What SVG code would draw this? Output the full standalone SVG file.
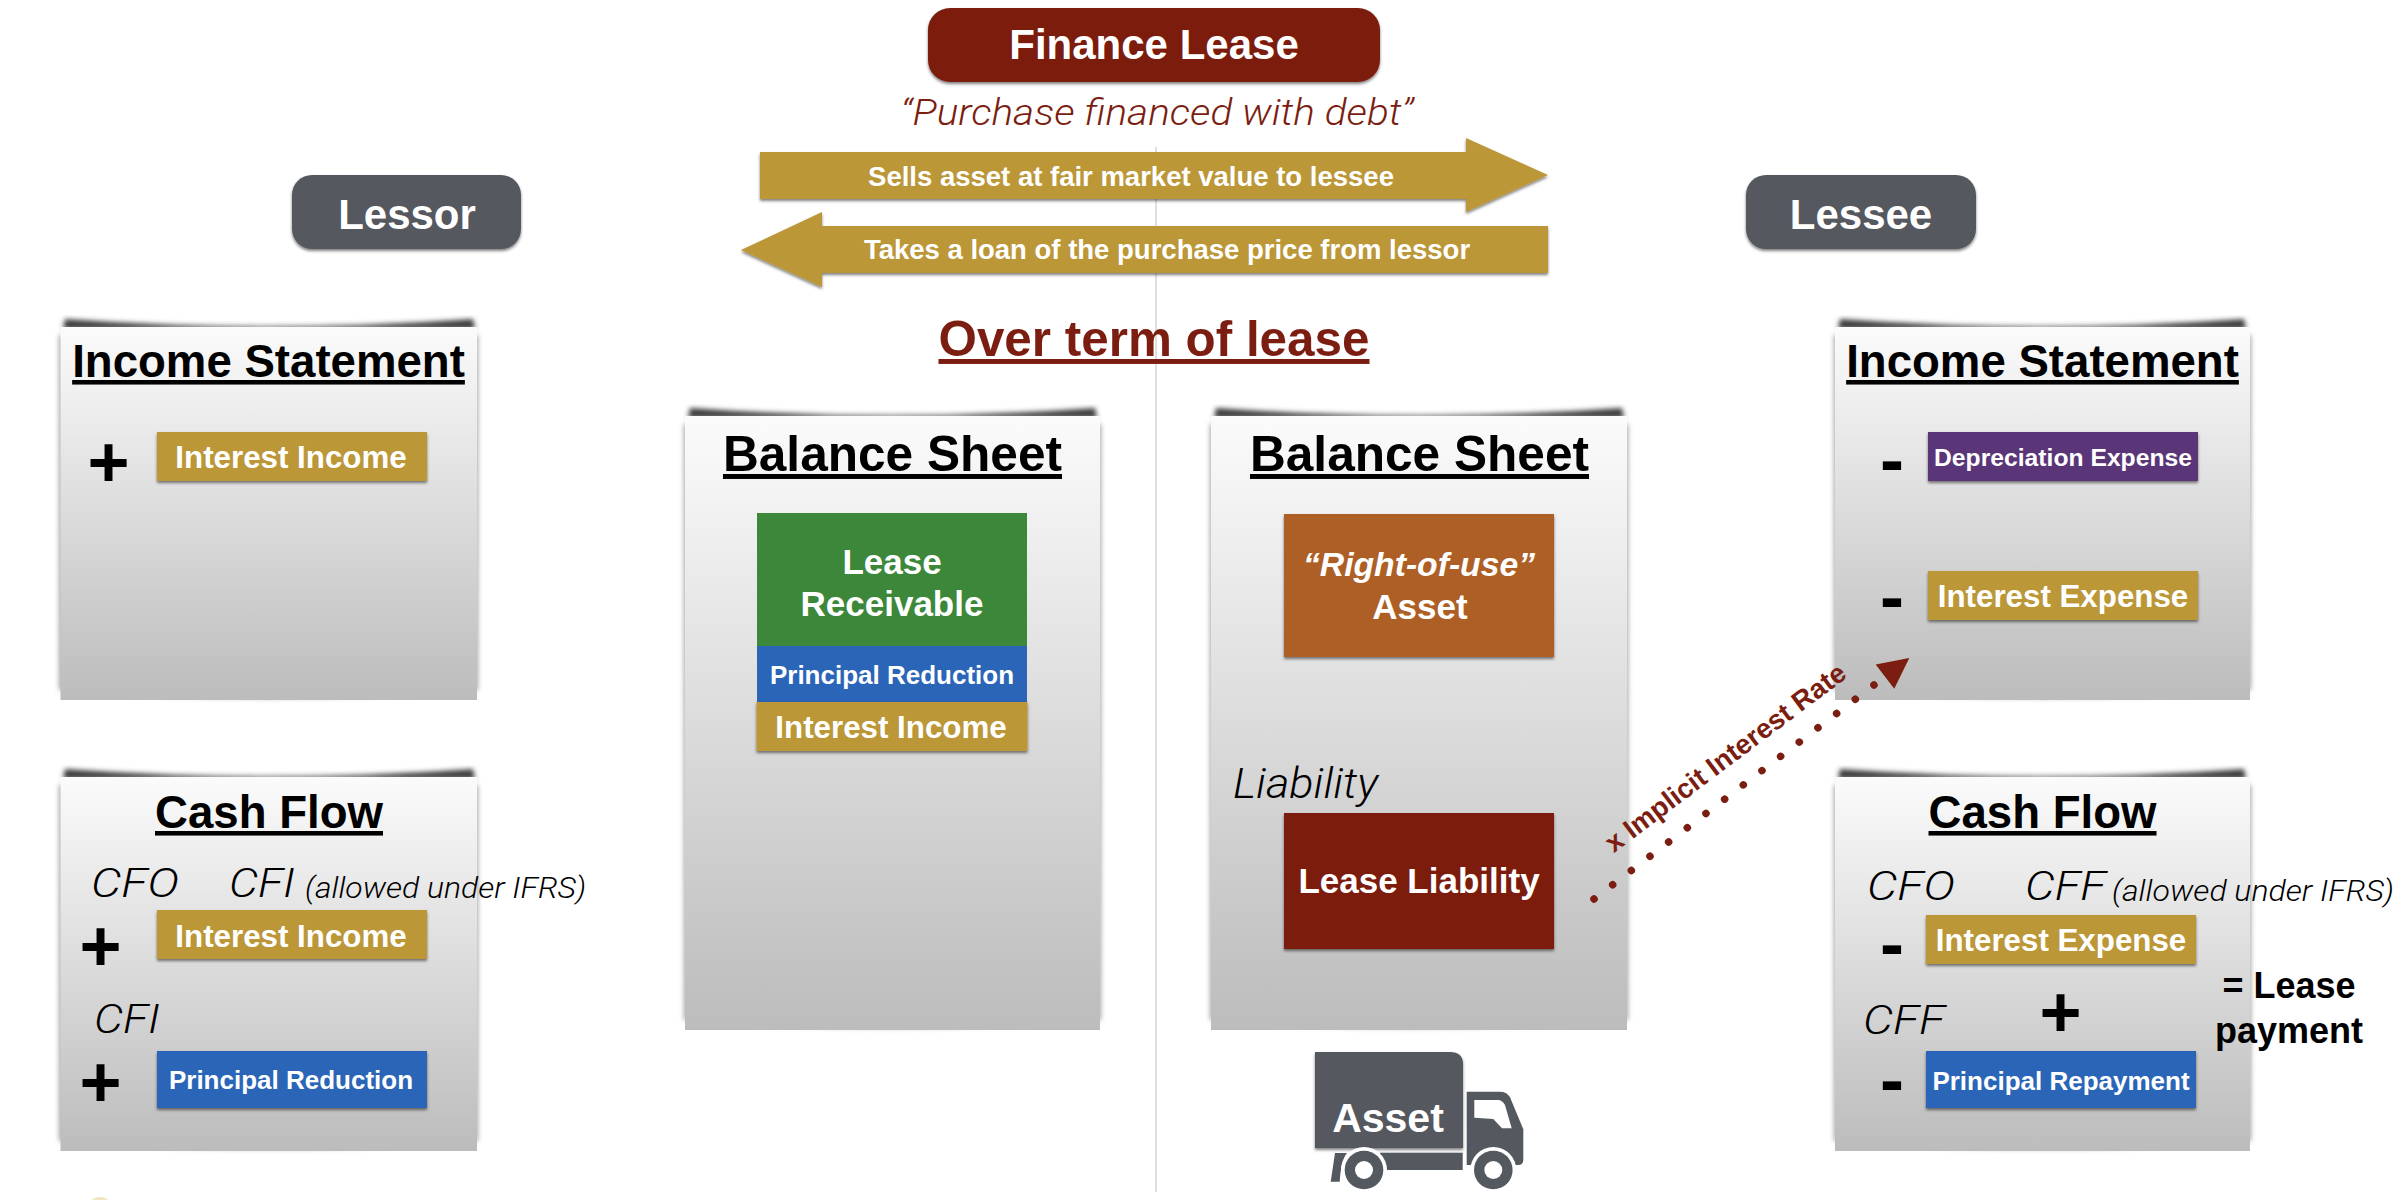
<svg xmlns="http://www.w3.org/2000/svg" width="2396" height="1200" viewBox="0 0 2396 1200">
<style>
text{font-family:"Liberation Sans",Arial,sans-serif}
.w{fill:#fff;font-weight:700;text-anchor:middle}
.h{fill:#000;font-weight:700;text-anchor:middle;font-size:45.6px;text-decoration:underline}
.h2{fill:#000;font-weight:700;text-anchor:middle;font-size:49.6px;text-decoration:underline}
.i{fill:#000;font-family:Roboto,"Liberation Sans",sans-serif;font-style:italic;font-weight:300}
.sign{fill:#000;font-weight:700;font-size:72px;text-anchor:middle}
.gold{fill:#bb9738}.blue{fill:#2b65b7}.slate{fill:#54585f}.red{fill:#7b1d10}
.box{filter:url(#sh)}
.t31{font-size:31.3px}.t26{font-size:26px}.t35{font-size:35px}
.pan{fill:url(#pg)}
.ps{fill:#3c3c3c;filter:url(#b2)}
.pb{fill:#a6a6a6;filter:url(#b3)}
</style>
<defs>
<linearGradient id="pg" x1="0" y1="0" x2="0" y2="1"><stop offset="0" stop-color="#fbfbfb"/><stop offset="1" stop-color="#bcbcbc"/></linearGradient>
<filter id="sh" x="-10%" y="-10%" width="120%" height="130%"><feDropShadow dx="0" dy="2" stdDeviation="1.8" flood-color="#000" flood-opacity=".5"/></filter>
<filter id="b2" x="-5%" y="-40%" width="110%" height="180%"><feGaussianBlur stdDeviation="2.4"/></filter>
<filter id="b3" x="-5%" y="-5%" width="110%" height="110%"><feGaussianBlur stdDeviation="2.5"/></filter>
<marker id="tri" markerUnits="userSpaceOnUse" viewBox="0 -20 50 40" markerWidth="50" markerHeight="40" refX="0" refY="0" orient="auto"><path d="M13.8,-15.3 L44.4,0 L13.8,15.3 Z" fill="#7b1d10"/></marker>
</defs>
<rect width="2396" height="1200" fill="#fff"/>
<line x1="1156" y1="147" x2="1156" y2="1192" stroke="#d4d4d4" stroke-width="1.5"/>
<ellipse cx="100" cy="1200" rx="8" ry="3" fill="#f1e6c4"/>

<g id="finance-lease">
<rect class="red box" x="928" y="8" width="452" height="74" rx="22"/>
<text class="w" x="1154" y="59" font-size="42">Finance Lease</text>
<text x="1157" y="125" font-size="36" fill="#7b1d10" text-anchor="middle" style="font-family:Roboto,'Liberation Sans',sans-serif;font-style:italic;font-weight:300" textLength="513" lengthAdjust="spacingAndGlyphs">“Purchase financed with debt”</text>
</g>

<g id="over-term">
<text x="1154" y="356" font-size="49.400" font-weight="700" fill="#7b1d10" text-anchor="middle" text-decoration="underline">Over term of lease</text>
</g>

<g id="lessor"><rect class="slate box" x="292" y="175" width="229" height="74" rx="20"/><text class="w" x="407" y="229" font-size="42">Lessor</text></g>
<g id="lessee"><rect class="slate box" x="1746" y="175" width="230" height="74" rx="20"/><text class="w" x="1861" y="229" font-size="42">Lessee</text></g>

<g id="lessor-income-statement">
<path class="pb" d="M59,335 H478 V690 Q269,706 59,690 Z"/>
<path class="ps" d="M63,329 L65,319 Q269,334 473,319 L475,329 Z"/>
<rect class="pan" x="60.500" y="327" width="416.500" height="373"/>
<text class="h" x="268.500" y="377">Income Statement</text>
<text class="sign" x="108.500" y="487">+</text>
<rect class="gold box" x="157" y="432" width="270" height="49"/>
<text class="w t31" x="291" y="468">Interest Income</text>
</g>

<g id="lessor-cash-flow">
<path class="pb" d="M59,785 H478 V1141 Q269,1157 59,1141 Z"/>
<path class="ps" d="M63,779 L65,769 Q269,784 473,769 L475,779 Z"/>
<rect class="pan" x="60.500" y="777" width="416.500" height="374"/>
<text class="h" x="269" y="828">Cash Flow</text>
<text class="i" x="91" y="897" font-size="41" textLength="88" lengthAdjust="spacingAndGlyphs">CFO</text>
<text class="i" x="229" y="897" font-size="41" textLength="66" lengthAdjust="spacingAndGlyphs">CFI</text>
<text class="i" x="305" y="898" font-size="29" textLength="281" lengthAdjust="spacingAndGlyphs">(allowed under IFRS)</text>
<text class="sign" x="100.500" y="971">+</text>
<rect class="gold box" x="157" y="910" width="270" height="49"/>
<text class="w t31" x="291" y="947">Interest Income</text>
<text class="i" x="94" y="1033" font-size="41" textLength="66" lengthAdjust="spacingAndGlyphs">CFI</text>
<text class="sign" x="100.500" y="1107">+</text>
<rect class="blue box" x="157" y="1051" width="270" height="57"/>
<text class="w t26" x="291" y="1089">Principal Reduction</text>
</g>

<g id="lessor-balance-sheet">
<path class="pb" d="M684,424 H1101 V1020 Q892,1036 684,1020 Z"/>
<path class="ps" d="M688,418 L690,408 Q892,423 1095,408 L1097,418 Z"/>
<rect class="pan" x="685" y="416" width="415" height="614"/>
<text class="h2" x="892.500" y="471">Balance Sheet</text>
<rect x="757" y="513" width="270" height="133" fill="#3c873a"/>
<text class="w t35" x="892" y="574">Lease</text>
<text class="w t35" x="892" y="616">Receivable</text>
<rect class="blue" x="757" y="646" width="270" height="56"/>
<text class="w t26" x="892" y="684">Principal Reduction</text>
<rect class="gold box" x="756.500" y="702" width="271" height="49"/>
<text class="w t31" x="891" y="738">Interest Income</text>
</g>

<g id="lessee-balance-sheet">
<path class="pb" d="M1210,424 H1628 V1020 Q1419,1036 1210,1020 Z"/>
<path class="ps" d="M1214,418 L1216,408 Q1419,423 1622,408 L1624,418 Z"/>
<rect class="pan" x="1211" y="416" width="416" height="614"/>
<text class="h2" x="1419.500" y="471">Balance Sheet</text>
<rect x="1284" y="514" width="270" height="143" fill="#ae5f26" class="box"/>
<text class="w" x="1419" y="576" font-size="33.700" font-style="italic">“Right-of-use”</text>
<text class="w t35" x="1420" y="618.500">Asset</text>
<text class="i" x="1233" y="798" font-size="43" textLength="145" lengthAdjust="spacingAndGlyphs">Liability</text>
<rect class="red box" x="1284" y="813" width="270" height="136"/>
<text class="w t35" x="1419" y="893">Lease Liability</text>
</g>

<g id="lessee-income-statement">
<path class="pb" d="M1834,335 H2251 V690 Q2042,706 1834,690 Z"/>
<path class="ps" d="M1838,329 L1840,319 Q2042,334 2244,319 L2246,329 Z"/>
<rect class="pan" x="1835" y="327" width="415" height="373"/>
<text class="h" x="2042.500" y="377">Income Statement</text>
<text class="sign" x="1892" y="484">-</text>
<rect x="1928" y="432" width="270" height="49" fill="#5a3577" class="box"/>
<text class="w" x="2063" y="465.500" font-size="24.700">Depreciation Expense</text>
<text class="sign" x="1892" y="621">-</text>
<rect class="gold box" x="1928" y="571" width="270" height="49"/>
<text class="w t31" x="2063" y="606.500">Interest Expense</text>
</g>

<g id="lessee-cash-flow">
<path class="pb" d="M1834,785 H2251 V1141 Q2042,1157 1834,1141 Z"/>
<path class="ps" d="M1838,779 L1840,769 Q2042,784 2244,769 L2246,779 Z"/>
<rect class="pan" x="1835" y="777" width="415" height="374"/>
<text class="h" x="2042.500" y="828">Cash Flow</text>
<text class="i" x="1867" y="900" font-size="41" textLength="88" lengthAdjust="spacingAndGlyphs">CFO</text>
<text class="i" x="2025" y="900" font-size="41" textLength="81" lengthAdjust="spacingAndGlyphs">CFF</text>
<text class="i" x="2112" y="901" font-size="29" textLength="282" lengthAdjust="spacingAndGlyphs">(allowed under IFRS)</text>
<text class="sign" x="1892" y="968">-</text>
<rect class="gold box" x="1926" y="915" width="270" height="49"/>
<text class="w t31" x="2061" y="951">Interest Expense</text>
<text class="i" x="1863" y="1034" font-size="41" textLength="82" lengthAdjust="spacingAndGlyphs">CFF</text>
<text class="sign" x="2060.500" y="1037">+</text>
<text class="sign" x="1892" y="1104">-</text>
<rect class="blue box" x="1926" y="1051" width="270" height="57"/>
<text class="w t26" x="2061" y="1090">Principal Repayment</text>
<text x="2289" y="998" font-size="36" font-weight="700" text-anchor="middle">= Lease</text>
<text x="2289" y="1043" font-size="36" font-weight="700" text-anchor="middle">payment</text>
</g>

<g id="connectors">
<path class="gold box" d="M760,152 H1466 V138 L1548,175 L1466,212 V199 H760 Z"/>
<path class="gold box" d="M1548,226 H822 V212 L741,250 L822,287 V273 H1548 Z"/>
<line x1="1594" y1="899" x2="1874" y2="685" stroke="#7b1d10" stroke-width="7.500" stroke-linecap="round" stroke-dasharray="0.01 23.48" marker-end="url(#tri)"/>
</g>
<g id="arrow-labels">
<text class="w" x="1131" y="186" font-size="27.500">Sells asset at fair market value to lessee</text>
<text class="w" x="1167" y="259" font-size="27.500">Takes a loan of the purchase price from lessor</text>
<text x="1731" y="765" font-size="27.500" font-weight="700" fill="#7b1d10" text-anchor="middle" transform="rotate(-37 1731 765)">x Implicit Interest Rate</text>
</g>

<g id="asset-truck">
<path class="slate box" d="M1315,1052 H1450 Q1463,1052 1463,1064 V1148 H1315 Z"/>
<path class="slate" d="M1466.700,1091.700 H1500 Q1507,1091.700 1510,1097.300 L1523.300,1129.300 V1160 Q1523.300,1165 1518,1165 H1466.700 Z"/>
<path d="M1474.300,1100 H1498 Q1502,1100 1505,1105 L1511.700,1128.300 H1502 L1493.300,1119 L1474.300,1117.700 Z" fill="#fff"/>
<rect class="slate" x="1380" y="1152.700" width="82.700" height="17.300"/>
<path class="slate" d="M1335,1153 H1347 Q1341,1160 1339.700,1181.700 H1330.700 Z"/>
<circle cx="1364" cy="1170" r="23" fill="#fff"/>
<circle cx="1493.300" cy="1170" r="23" fill="#fff"/>
<circle cx="1364" cy="1170" r="19.300" class="slate"/><circle cx="1364" cy="1170" r="9" fill="#fff"/>
<circle cx="1493.300" cy="1170" r="19.300" class="slate"/><circle cx="1493.300" cy="1170" r="9" fill="#fff"/>
<text class="w" x="1388" y="1132" font-size="41">Asset</text>
</g>
</svg>
